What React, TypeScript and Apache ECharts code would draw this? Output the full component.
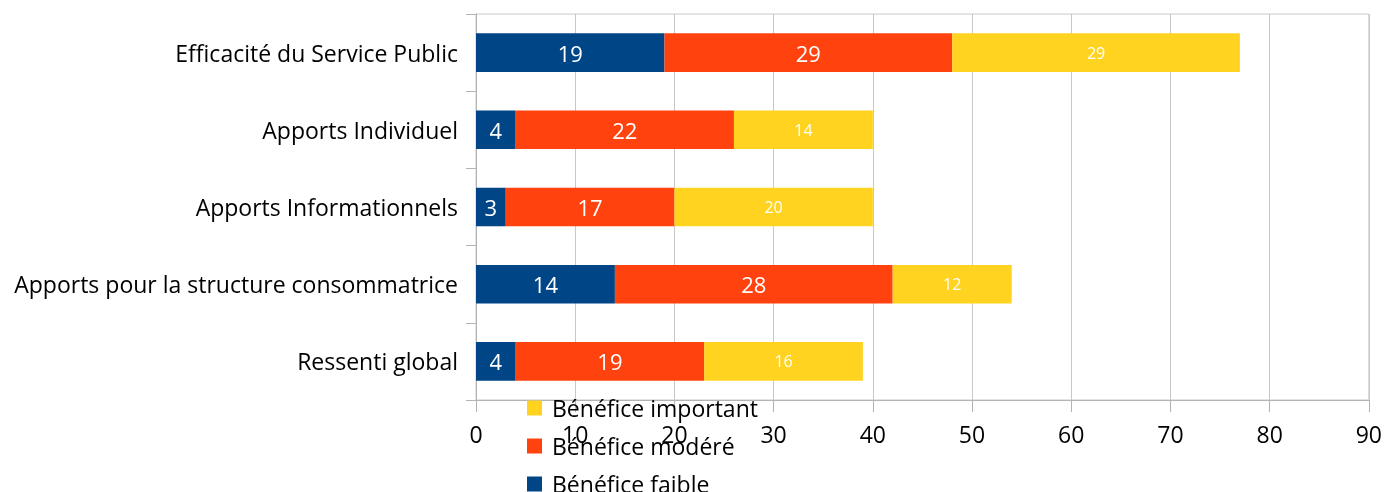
import React, { useEffect, useRef } from "react";
import * as echarts from "echarts";

const categories = [
  "Efficacité du Service Public",
  "Apports Individuel",
  "Apports Informationnels",
  "Apports pour la structure consommatrice",
  "Ressenti global",
];
const faible = [19, 4, 3, 14, 4];
const modere = [29, 22, 17, 28, 19];
const important = [29, 14, 20, 12, 16];
const xTicks = { min: 0, max: 90, interval: 10 };

const FONT = "'Open Sans', 'Noto Sans', sans-serif";

export default function App() {
  const ref = useRef<HTMLDivElement>(null);
  useEffect(() => {
    const chart = echarts.init(ref.current!, null, { renderer: "svg" });
    const mk = (name: string, data: number[], color: string, fs: number) => ({
      name,
      type: "bar",
      stack: "total",
      data,
      barWidth: "50%",
      itemStyle: { color },
      label: {
        show: true,
        position: "inside",
        color: "#ffffff",
        fontSize: fs,
        fontFamily: FONT,
      },
    });
    chart.setOption({
      animation: false,
      grid: {
        left: 476,
        right: 16,
        top: 14,
        bottom: 92,
        show: true,
        borderColor: "#c8c8c8",
        borderWidth: 1,
      },
      legend: {
        orient: "vertical",
        left: 527,
        top: 394,
        height: 120,
        padding: 0,
        itemWidth: 15,
        itemHeight: 15,
        itemGap: 10,
        icon: "rect",
        data: ["Bénéfice important", "Bénéfice modéré", "Bénéfice faible"],
        textStyle: {
          fontSize: 23,
          lineHeight: 28,
          color: "#000",
          fontFamily: FONT,
          padding: [0, 0, 0, 5],
        },
      },
      xAxis: {
        type: "value",
        min: xTicks.min,
        max: xTicks.max,
        interval: xTicks.interval,
        axisLine: { show: true, lineStyle: { color: "#b3b3b3" } },
        axisTick: { show: true, length: 12, lineStyle: { color: "#b3b3b3" } },
        splitLine: { show: true, lineStyle: { color: "#c8c8c8" } },
        axisLabel: { fontSize: 23, color: "#000", fontFamily: FONT, margin: 22 },
      },
      yAxis: {
        type: "category",
        inverse: true,
        data: categories,
        axisLine: { show: true, lineStyle: { color: "#b3b3b3" } },
        axisTick: { show: true, length: 10, lineStyle: { color: "#b3b3b3" } },
        axisLabel: { fontSize: 23, color: "#000", fontFamily: FONT, margin: 18 },
      },
      series: [
        mk("Bénéfice faible", faible, "#004586", 22),
        mk("Bénéfice modéré", modere, "#ff420e", 22),
        mk("Bénéfice important", important, "#ffd320", 16),
      ],
    });
    return () => chart.dispose();
  }, []);
  return (
    <div
      ref={ref}
      style={{ position: "fixed", left: 0, top: 0, width: 1385, height: 492 }}
    />
  );
}
